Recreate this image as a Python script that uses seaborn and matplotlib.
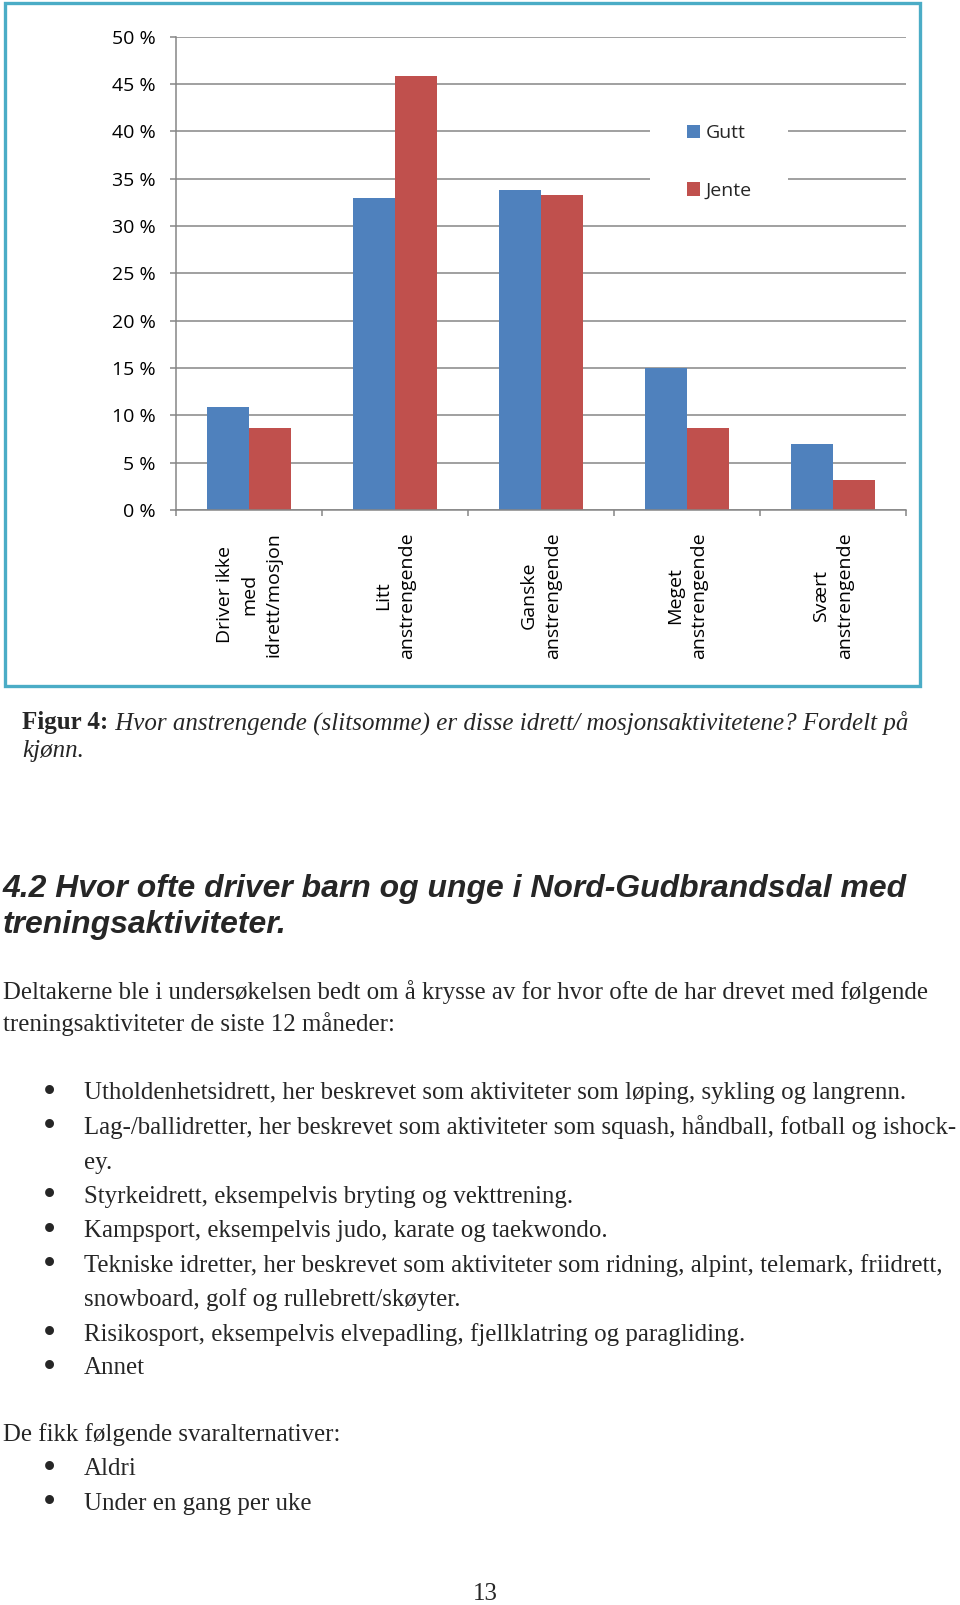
import matplotlib
matplotlib.use("Agg")
import matplotlib.pyplot as plt
import seaborn as sns
import pandas as pd
from matplotlib.patches import Rectangle

# ---------------- data ----------------
categories = ["Driver ikke\nmed\nidrett/mosjon", "Litt\nanstrengende",
              "Ganske\nanstrengende", "Meget\nanstrengende", "Svært\nanstrengende"]
series = ["Gutt", "Jente"]
gutt = [10.9, 33.0, 33.8, 15.0, 7.0]
jente = [8.7, 45.8, 33.3, 8.7, 3.2]
y_ticks = [0, 5, 10, 15, 20, 25, 30, 35, 40, 45, 50]
y_ticklabels = [f"{v} %" for v in y_ticks]
colors = ["#4F81BD", "#C0504D"]

caption_bold = "Figur 4:"
caption_italic = [" Hvor anstrengende (slitsomme) er disse idrett/ mosjonsaktivitetene? Fordelt på",
                  "kjønn."]
heading = ["4.2 Hvor ofte driver barn og unge i Nord-Gudbrandsdal med",
           "treningsaktiviteter."]
paragraph = ["Deltakerne ble i undersøkelsen bedt om å krysse av for hvor ofte de har drevet med følgende",
             "treningsaktiviteter de siste 12 måneder:"]
bullets = [
    ("Utholdenhetsidrett, her beskrevet som aktiviteter som løping, sykling og langrenn.", True),
    ("Lag-/ballidretter, her beskrevet som aktiviteter som squash, håndball, fotball og ishock-", True),
    ("ey.", False),
    ("Styrkeidrett, eksempelvis bryting og vekttrening.", True),
    ("Kampsport, eksempelvis judo, karate og taekwondo.", True),
    ("Tekniske idretter, her beskrevet som aktiviteter som ridning, alpint, telemark, friidrett,", True),
    ("snowboard, golf og rullebrett/skøyter.", False),
    ("Risikosport, eksempelvis elvepadling, fjellklatring og paragliding.", True),
    ("Annet", True),
]
answers_intro = "De fikk følgende svaralternativer:"
answers = ["Aldri", "Under en gang per uke"]
page_number = "13"

# ---------------- figure ----------------
sns.set_style("white")
plt.rcParams["font.family"] = ["Open Sans", "DejaVu Sans"]

W, H = 960, 1605
fig = plt.figure(figsize=(W / 100, H / 100), dpi=100)
fig.patch.set_facecolor("white")


def fx(px):
    return px / W


def fy(py):
    return 1 - py / H


# chart frame
fig.patches.append(Rectangle((fx(5), fy(686)), fx(920) - fx(5), fy(3) - fy(686),
                             transform=fig.transFigure, fill=False,
                             edgecolor="#4BACC6", linewidth=2.4))

ax = fig.add_axes([fx(176), fy(510), fx(906) - fx(176), fy(36.7) - fy(510)])
df = pd.DataFrame({"kategori": categories * 2,
                   "andel": gutt + jente,
                   "kjønn": [series[0]] * len(gutt) + [series[1]] * len(jente)})
sns.barplot(data=df, x="kategori", y="andel", hue="kjønn", palette=colors,
            width=0.57, saturation=1, errorbar=None, linewidth=0, ax=ax)

grid_col = "#868686"
ax.set_ylim(0, 50)
ax.set_yticks(y_ticks)
ax.set_yticklabels(y_ticklabels)
ax.set_xlabel("")
ax.set_ylabel("")
ax.set_axisbelow(True)
ax.yaxis.grid(True, color=grid_col, linewidth=1.1)
ax.xaxis.grid(False)
for s in ["top", "right"]:
    ax.spines[s].set_visible(False)
for s in ["left", "bottom"]:
    ax.spines[s].set_color(grid_col)
    ax.spines[s].set_linewidth(1.1)
ax.tick_params(axis="y", length=4.3, width=1.1, color=grid_col, pad=10.5,
               labelsize=14, labelcolor="black", left=True)
ax.tick_params(axis="x", which="major", length=0, pad=16, labelsize=14,
               labelcolor="black")
ax.set_xticks([i - 0.5 for i in range(len(categories) + 1)], minor=True)
ax.tick_params(axis="x", which="minor", length=4.3, width=1.1, color=grid_col,
               bottom=True)
for t in ax.get_xticklabels():
    t.set_rotation(90)
    t.set_multialignment("center")
    t.set_linespacing(1.45)

# legend with white background
handles, labels = ax.get_legend_handles_labels()
ax.legend(handles, labels, loc="upper left",
          bbox_to_anchor=(fx(686.5), fy(124.5)), bbox_transform=fig.transFigure,
          frameon=False, borderpad=0, fontsize=14, handlelength=0.68,
          handleheight=0.68, handletextpad=0.3, labelspacing=2.02,
          borderaxespad=0)
bg = Rectangle((fx(650), fy(212)), fx(788) - fx(650), fy(98) - fy(212),
               transform=fig.transFigure, facecolor="white", edgecolor="none",
               zorder=0.8, clip_on=False)
ax.add_patch(bg)

# ---------------- page text ----------------
serif = "Liberation Serif"
sans = "Liberation Sans"
fig.canvas.draw()
r = fig.canvas.get_renderer()


def width_px(t):
    return t.get_window_extent(renderer=r).width


def T(x, y, s, **kw):
    va = kw.pop("va", "baseline")
    return fig.text(fx(x), fy(y), s, va=va, ha=kw.pop("ha", "left"), **kw)


# body size: fit a non-justified line
probe = T(84, 1099, bullets[0][0], family=serif, fontsize=20)
body = 20 * (905 - 84) / width_px(probe)
probe.remove()


def bullet(y):
    T(49, y + 3.5, "•", family=serif, fontsize=body * 1.5, ha="center")


# caption
cb = T(22.5, 729.5, caption_bold, family=serif, weight="bold", fontsize=20)
ci = T(22.5, 729.5, caption_italic[0], family=serif, style="italic", fontsize=20)
cap = 20 * (907 - 22.5) / (width_px(cb) + width_px(ci))
cb.set_fontsize(cap)
ci.set_fontsize(cap)
ci.set_x(fx(22.5 + width_px(cb)))
T(22.5, 757, caption_italic[1], family=serif, style="italic", fontsize=cap)

# heading
hp = T(3, 897, heading[0], family=sans, weight="bold", style="italic", fontsize=20)
hs = 20 * (905 - 3) / width_px(hp)
hp.set_fontsize(hs)
T(3, 933, heading[1], family=sans, weight="bold", style="italic", fontsize=hs)

# paragraph
for s, y in zip(paragraph, [999, 1031.5]):
    T(3, y, s, family=serif, fontsize=body)

bullet_y = [1099, 1134, 1168.5, 1202.5, 1237, 1272, 1306, 1340.5, 1374.5]
for (s, has_bullet), y in zip(bullets, bullet_y):
    if has_bullet:
        bullet(y)
    T(84, y, s, family=serif, fontsize=body)

T(3, 1441.5, answers_intro, family=serif, fontsize=body)
for s, y in zip(answers, [1475, 1510]):
    bullet(y)
    T(84, y, s, family=serif, fontsize=body)

T(485, 1604.5, page_number, family=serif, fontsize=body, ha="center", va="bottom")

fig.savefig("out.png", dpi=100)
